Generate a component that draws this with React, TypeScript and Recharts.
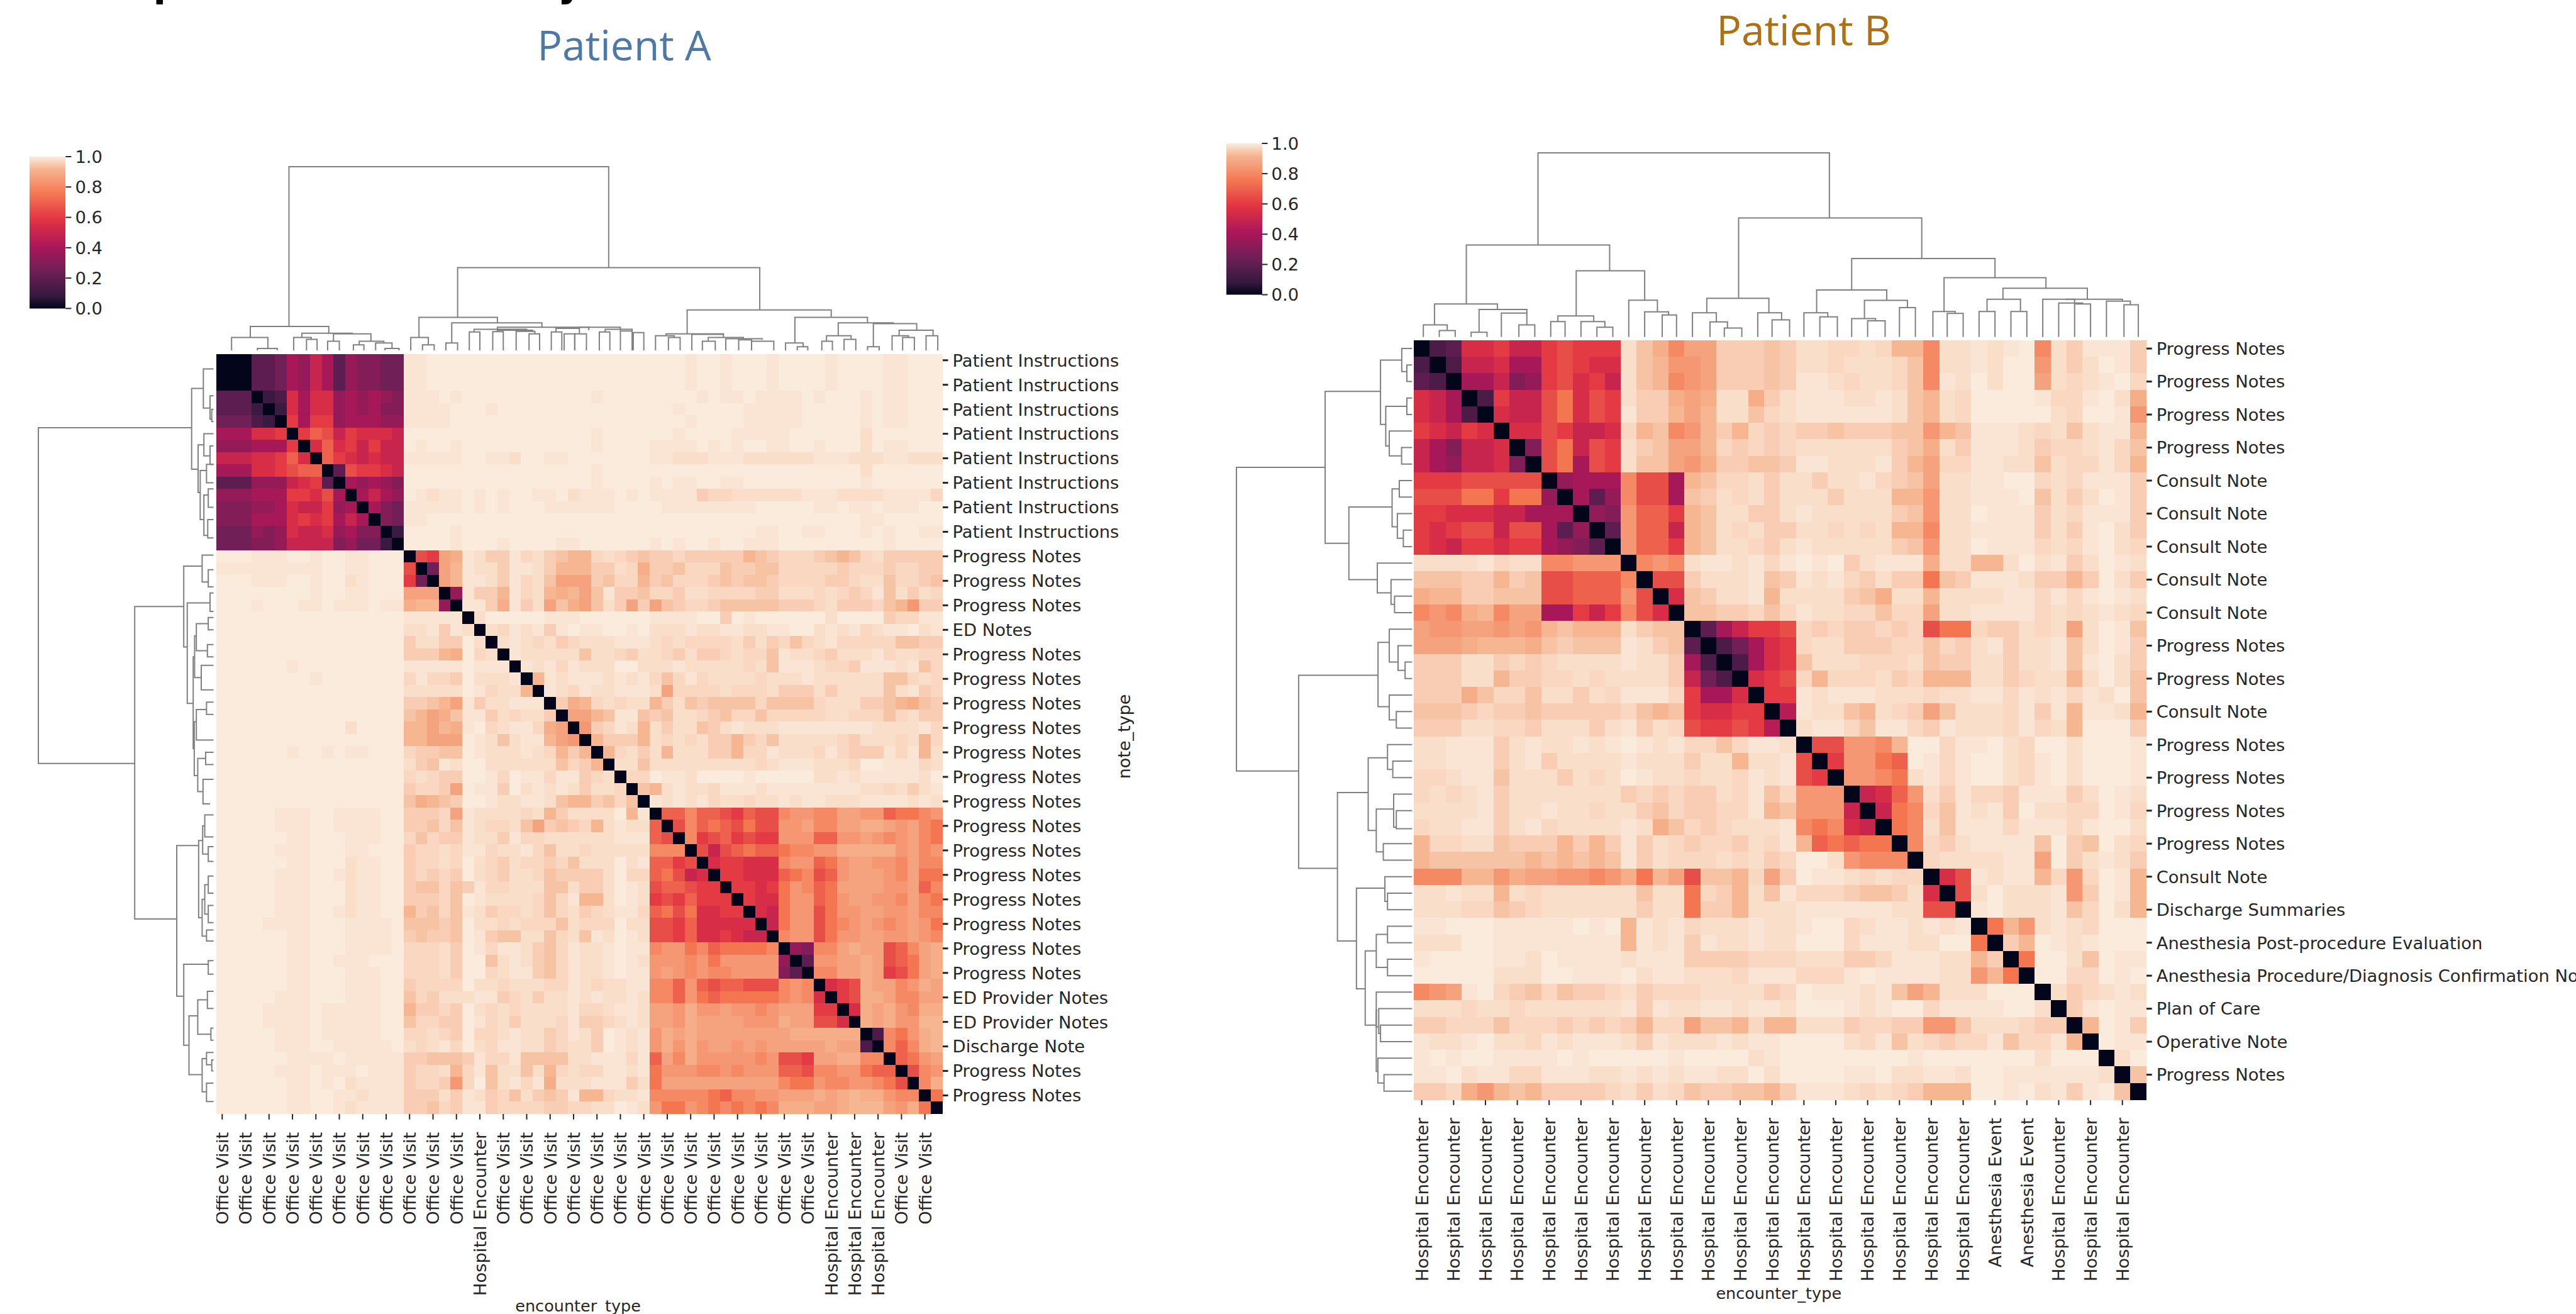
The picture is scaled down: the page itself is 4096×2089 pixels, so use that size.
import React from "react";
import { Bar, BarChart, Scatter, ScatterChart, XAxis, YAxis } from "recharts";

const S = 0.844; // reference px -> window px

// Cell values are upper triangles (the matrices are symmetric), one char per cell.
const LEVEL_KEYS = "0123456789abcdefghijklmnopq";
const LEVELS = [0, 0.05, 0.1, 0.15, 0.2, 0.25, 0.3, 0.35, 0.4, 0.45, 0.5, 0.55, 0.6, 0.65, 0.7, 0.75, 0.8, 0.84, 0.87, 0.9, 0.92, 0.94, 0.955, 0.97, 0.98, 0.99, 1];

const upperA = [
  "000445 87a8 476655 ppqqqqqqqqq qqqqqqqqqq qqqpqqpqqqp qqqqpqqqq ppqqq",
  "00445 87a8 476655 ppqqqqqqqqq qqqqqqqqqq qqqpqqpqqqp qqqqpqqqq ppqqq",
  "0445 87a8 476655 ppqqqqqqqqq qqqqqqqqqq qqqpqqpqqqp qqqqpqqqq ppqqq",
  "023 b8bb 787876 pppqpqqqqqq qqqqqpqqqq qqqqpqppqpp ppqpqqqpq ppqqq",
  "02 b8bb 787866 ppppqqqpqqq qqqqqqqqqq qqpqqqqqppp ppqqqqqpq ppqqq",
  "0 c8cc 788877 ppppqqqqqqq qqqqqqqqqq qqqpqqqqppp ppqqqqqpq ppqqq",
  "0 cedacbbba qqqqqqqqqqq qqqqqpqqqq qqpqqqqpppp pqqqqqqoq qqqqq",
  "0 bebcacaa qpqqpqqqqqq qqqqqpqqqq ppppqpqpqqp pqqpqqqoq ppqqq",
  "0 ecbabaa pppppqqppoq qppqqqqqqq ppooopppooo ooopppooo ppooo",
  "0 4dccba qqqqqqqqqqq qqqqqpqqqq qqqqqqqqqqq qqqqqqqoq qqqqq",
  "0 87876 qqqqqqqqqqq qqqqqpqqqq pqppqqppqqq qqqqqqqpq qqqqq",
  "0 8a87 qpoppqpqpqq ppqopppqpq ppppm nnoooo oopppoooo ppppn",
  "0 865 pppppqpqpqq qppppppqqq qppppppppqq qqqppqppq pppqq",
  "0 65 ppqqqqqqqqq qqqqqqqqqq qqqqqqqqqqq qqqqqqqpp qqqqq",
  "0 2 qqqqpqqqqqq qqqqqqqqqq qqqqqqqqqpp qqppqqqpq pqqpp",
  "0 qqqqpqqqpqq qqppqqqqqq pqpqqpqqppp qqqqqqqqq pqqqq",
  "0dcijpommpn omlkk nonml mmnmm mmmkl mnnnm lklno mmmmm",
  "05ikpoompp omkkk mmonj mmlnn nlmml lnnnn nmnnn mnnmm",
  "0ikppompn oliii mlnnk mlnnn mlmll mnnnn mmnoo lnnml",
  "07pmmkpn okjki lpmml nnmoo nnnnm mooon onmnp lomon",
  "0ppmjpm oilji lomim ilmnn mllll lmmmn ommmn lkhmm",
  "0oqqqq qpppq qqqqq ppppq qmqpq qqqqq oqqqq mnnpp",
  "0onpo pmpqp pqqpq ooopo oppoo ppqqo popno ppqop",
  "0opo nomno ooppp ononn nnomo mnlno pnnnn nllmm",
  "0po ooool oonmo onmom mnonn lpoon mooop noonn",
  "0p opnpo ooqqo oopoo ooono lpppo nnmpp popln",
  "0 kpopp popop nlnpn oooon ooopo ooooo llnon",
  "0 ponp ooppp oinnn nonnn ommmo moooo lopmn",
  "0 mjk nonoo kmolm lllln lllln ooomm lkjlm",
  "0 ii klppl mloon mlnnl nnnnn oonnn lnomm",
  "0h mnpok omool mopoo opppp ppppo ooopn",
  "0 kmmmk onono mmkmn loooo onmoo onokn",
  "0 knom okooo mmknn pooon pnmmm pnpko",
  "0 ool ooooo oooon opppo oonqq pppno",
  "0 nn qppoq qqqpq qqqqo opopp pppoq",
  "0 l kopoo npppo ppppp pppoo nomop",
  "0 popop noono opopp ooopp ppopo",
  "0 eege edced dghhg giihh effgh",
  "0 dge fedfd dhhig giijj ihigf",
  "0 gc decdc chhhe ehhih ghigf",
  "0 d adefe efggh hjjjj jhigh",
  "0 bccbb bghhe fhiih hgigg",
  "0 ccbb befgd ehiii hgiff",
  "0 ccb cfhge fiiii hhieg",
  "0 cb bfhhe fhiih hgigf",
  "0 b afhhd fhhii hhigg",
  "0 afhhd fghih ghihf",
  "0 ghhd fhhii hhihg",
  "0 76 g gijii degij",
  "0 4 h hiiji defij",
  "0 g giiji cdfij",
  "0 bcdji ighji",
  "0 cdjj iggii",
  "0 bji jhgjj",
  "0 ji jhhkk",
  "0 3 gfhjk",
  "0gegjk",
  "0efhi",
  "0dgh",
  "0gj",
  "0f",
  "0",
];

// Rows 16-61, columns 0-15 of A: this corner is not quite the mirror of the upper one.
const lowerLeftA = [
  "qqqpppqqpqqppqqq",
  "pppppppppqqppqqq",
  "qqqpppqqpqqopqqq",
  "qqqqqqqqpqqppqqq",
  "qqqpqqqppqpppqpp",
  "qqqqqqqqqqqqqqqq",
  "qqqqqqqqqqqqqqqq",
  "qqqqqqqqqqqqqqqq",
  "qqqqqqqqqqqqqqqq",
  "qqqqqqpqqqqqqqqq",
  "qqqqqqqqpqqqqqqq",
  "qqqqqqqqqqqqqqqq",
  "qqqqqqqqqqqqqqqq",
  "qqqqqqqqqqqqqqqq",
  "qqqqqqqqqqqoqqqq",
  "qqqqqqqqqqqqqqqq",
  "qqqqqqpqqpqppqqq",
  "qqqqqqqqqqqqqqqq",
  "qqqqqqqqqqqqqqqq",
  "qqqqqqqqqqqqqqqq",
  "qqqqqqqqqqqqqqqq",
  "qqqqqpppqqppppqq",
  "qqqqqpppqqppppqq",
  "qqqqqqppqqqpppqq",
  "qqqqqpppqqqppqqq",
  "qqqqqqppqqqoppqq",
  "qqqqqpppqqpoppqq",
  "qqqqqpppqqqoppqq",
  "qqqqqpppqqqoppqq",
  "qqqqqpppqqpoppqq",
  "qqqqppppqqqppppq",
  "qqqqqqppqqqppppq",
  "qqqqqqppqqqppppq",
  "qqqqqqppqqpppqqq",
  "qqqqqqppqqqpppqq",
  "qqqqqqppqqqpppqq",
  "qqqqqpppqqqpppqq",
  "qqqqppppqpppppqq",
  "qqqqppppqpppppqq",
  "qqqqqpppqpppppqq",
  "qqqqqpppqqpppppq",
  "qqqqqqppppqppppp",
  "qqqqqpppqpppqppp",
  "qqqqqqppqpqopppp",
  "qqqqqqppqqppoppp",
  "qqqqqqppqqpopppp",
];

const upperB = [
  "0 34bbcaacdccc oljgiimmmlmoo nnonk kgoop opqgo mpppm",
  "0 3aab88cdcbb olkhhimmmlmoo nooon lgoop oqqho moqpm",
  "0 88a67cdbca olkghimmmlmpp onoon lgpoq oqqio nopqn",
  "0 3caadfbdc ommjijoojmopp poopo lkonq qqqpn npqoj",
  "0 baadfbdc pmmkikoolnopp ppppo lkonq qqqqo nqqph",
  "0 bbdcaab nklghkmknmnmm lmmml lhklp ppono loppk",
  "0 6dfadc omliiknmnmnoo oooom ljomp ppomn nopnl",
  "0 df8dc ollihjmmllmpp ooopm kinnp poolo nnpnk",
  "0 7888 gdd8klnnomoom oopnm lioop pqqno npppm",
  "0 847 gdd8lmonomooo moook khoop ppqlo moqpm",
  "0 76 heeckloommopo oooom lhooq pppmo npppm",
  "0 4 heeaklonommoo nonok kgoop pppmo mpqom",
  "0 heeckloonmopo oooom lhooq pppno npqon",
  "0 ghgoppopnpqp qmopp pjook koqop moqpo",
  "0 ddmoooplmpo pnmom mflmp ppomm kmqom",
  "0 blmoopkooo omljo okooo oppnp npqpo",
  "0 llmmnlnpo onnln nioop pppno nopon",
  "0 48accd nmnmm nmndf fnmmo noioq pl",
  "0 358bc noomm mnnln mopmo oploq pm",
  "0 38bc looon nnolm moomo oplpq om",
  "0 bcd nknnn omnkk koomn ookoq ol",
  "0 cc poppp ooono oppnp opnpo ql",
  "0 9 poolk onmil ooonp mpkpp ok",
  "0 oppnl ppnmp ooonp nokqq qm",
  "0 ddhhg kqqnp pqonq qoqqq p",
  "0 chhfe qpnpq qonpq oqqqp",
  "0 hhgf opnpq qonpq oqqqp",
  "0 abeh ompnn mpppm oqpo",
  "0 afg nlpop mqoon nqpn",
  "0 fg olppp npppn pqqo",
  "0 g nmopp pplqm lqon",
  "0 noooo ppiqm opom",
  "0 bdpop pknhn qpk",
  "0 doqoo ophmq pk",
  "0 pqooo plnqo k",
  "0 fkhop onqqq",
  "0 mkqpo pqqq",
  "0 fqqolqpp",
  "0 qqnnqpq",
  "0 omnopo",
  "0 mpqpp",
  "0 kqpm",
  "0 qpp",
  "0 oq",
  "0 l",
  "0",
];

const rep = (label: string, n: number) => Array<string>(n).fill(label);

const xLabelsA = [...rep("Office Visit", 11), "Hospital Encounter", ...rep("Office Visit", 14), ...rep("Hospital Encounter", 3), ...rep("Office Visit", 2)];
const yLabelsA = [
  ...rep("Patient Instructions", 8),
  ...rep("Progress Notes", 3),
  "ED Notes",
  ...rep("Progress Notes", 14),
  ...rep("ED Provider Notes", 2),
  "Discharge Note",
  ...rep("Progress Notes", 2),
];
const xLabelsB = [...rep("Hospital Encounter", 18), ...rep("Anesthesia Event", 2), ...rep("Hospital Encounter", 3)];
const yLabelsB = [
  ...rep("Progress Notes", 4),
  ...rep("Consult Note", 5),
  ...rep("Progress Notes", 2),
  "Consult Note",
  ...rep("Progress Notes", 4),
  "Consult Note",
  "Discharge Summaries",
  "Anesthesia Post-procedure Evaluation",
  "Anesthesia Procedure/Diagnosis Confirmation Note",
  "Plan of Care",
  "Operative Note",
  "Progress Notes",
];

// Dendrogram links: [leaf pos 1, height 1, leaf pos 2, height 2, merge height]
type Link = number[];

const topLinksA: Link[] = [
  [6.2, 13, 33.5, 45, 100], [2.9, 7, 9.6, 9, 13], [1.3, 0, 4.4, 1, 7], [3.5, 0, 5.2, 0, 1],
  [7.3, 7, 11.6, 9, 9.3], [6.6, 0, 8.1, 6, 7], [7.7, 0, 8.6, 0, 6], [10, 5, 13.2, 5, 9],
  [9.5, 0, 10.5, 0, 5], [12.2, 3, 14.3, 4, 5], [11.7, 0, 12.6, 0, 3], [13.6, 0, 15, 1, 4], [14.4, 0, 15.6, 0, 1],
  [20.6, 18, 46.4, 22, 45], [17.3, 7, 24, 15, 18], [16.6, 0, 18.1, 3, 7], [17.6, 0, 18.6, 0, 3],
  [20.1, 4, 27.8, 12.5, 15], [19.6, 0, 20.6, 0, 4], [24, 11, 31.8, 11, 12.6], [22, 10, 26.5, 11, 11.5],
  [21.6, 0, 22.5, 0, 10], [24, 10, 27, 10, 11], [23.6, 0, 24.5, 0, 10.2], [25.6, 0, 27.2, 9, 10.4], [26.7, 0, 27.6, 0, 9],
  [29, 10, 31, 9.3, 12], [28.6, 0, 29.5, 0, 10], [29.7, 0, 30.6, 0, 9], [30.6, 0, 31.6, 0, 9],
  [31, 12, 34.5, 11, 12.6], [33.2, 10, 35.5, 10.5, 11.5], [32.7, 0, 33.6, 0, 10], [34.5, 0, 35.5, 0, 10.5], [35.6, 0, 36.5, 0, 9.7],
  [40.2, 9, 52.5, 18, 22], [38.4, 8, 43.3, 8.7, 9], [37.5, 0, 39.1, 7, 8], [38.6, 0, 39.6, 0, 7], [40.6, 0, 43.3, 7, 8.7],
  [42, 5, 45, 6.3, 7], [41.5, 0, 42.6, 0, 5], [43.5, 0, 46.6, 5.7, 6.3], [44.6, 0, 45.7, 0, 5.7], [45.7, 0, 47.6, 0, 5],
  [49.4, 4, 55.6, 15, 18], [48.6, 0, 50.1, 2, 4], [49.6, 0, 50.5, 0, 2], [53.1, 8, 57.8, 14.6, 15], [52.1, 5, 54.2, 6, 8],
  [51.7, 0, 52.6, 0, 5], [53.6, 0, 54.6, 0, 6], [56.1, 2, 59.8, 11, 14.6], [55.6, 0, 56.6, 0, 2], [58.3, 8, 61.2, 8, 11],
  [57.7, 0, 59.1, 7, 8], [58.6, 0, 59.6, 0, 7], [60.6, 0, 61.6, 0, 8],
];

const leftLinksA: Link[] = [
  [6, 12.5, 33.4, 45, 100], [2.8, 5.8, 9.4, 8.8, 12.5], [1.2, 0, 4.4, 2, 5.8], [3.4, 0, 5.3, 1, 2], [4.5, 0, 5.5, 0, 1],
  [7.4, 5.5, 11.3, 7.6, 8.8], [6.5, 0, 8.3, 2, 5.5], [7.5, 0, 9, 0, 2], [9.5, 4, 13.5, 5.5, 7.6], [9, 0, 10.5, 0, 4],
  [11.5, 3, 14.8, 3.3, 5.5], [11, 0, 12.5, 0, 3], [13.5, 0, 15, 0, 3.3],
  [20.6, 17, 46.1, 21, 45], [17.3, 6.5, 23.9, 15, 17], [16.4, 0, 18.6, 3, 6.5], [17.6, 0, 19, 0, 3],
  [20.3, 2, 28.5, 11.6, 15], [19.5, 0, 21, 0, 2], [22, 3, 24.2, 3.5, 9.8], [21.5, 0, 22.5, 0, 3], [23.7, 0, 24.7, 0, 3.5],
  [25.4, 0, 27.4, 0, 7], [23, 9.8, 26.4, 7, 10.8], [28.4, 0, 29.4, 0, 4], [29, 4, 31.5, 0, 9.8], [32.5, 0, 33.5, 0, 4.5],
  [34.7, 0, 36.7, 2, 6], [33, 4.5, 35.7, 6, 9], [30, 9.8, 34.4, 9, 11], [24.7, 10.8, 32.2, 11, 11.6],
  [40.1, 8.5, 52.4, 17, 21], [38.5, 5, 40.8, 3, 6.2], [37.6, 0, 39.4, 0, 5], [40.2, 0, 41.4, 0, 3], [42.6, 0, 44, 0, 3],
  [45, 0, 46.4, 0, 3], [47, 0, 47.9, 0, 4], [43.3, 3, 45.7, 3, 5], [44.5, 5, 47.5, 4, 6.5], [39.7, 6.2, 46, 6.5, 8.5],
  [49.8, 3, 56.4, 14, 17], [49.5, 0, 50.6, 0, 3], [52, 0, 53.4, 0, 3.5], [55, 0, 56, 0, 1.5], [52.7, 3.5, 55.5, 1.5, 9],
  [57, 0, 58, 1, 4], [57.6, 0, 58.5, 0, 1], [59.5, 0, 61, 0, 4], [57.5, 4, 60.2, 4, 6.5], [54, 9, 58.8, 6.5, 14],
];

const topLinksB: Link[] = [
  [7.8, 50, 26.1, 64.7, 100], [3.3, 18, 12.3, 36, 50], [1.3, 6.6, 5.25, 15, 18], [0.6, 0, 2.1, 3.5, 6.6], [1.6, 0, 2.6, 0, 3.5],
  [4.1, 2.6, 7.1, 13, 15], [3.6, 0, 4.6, 0, 2.6], [5.5, 0, 7.1, 6.6, 13], [6.6, 0, 7.6, 0, 6.6],
  [10.2, 11.5, 14.5, 20, 36], [9.05, 8.4, 11.3, 8.4, 11.5], [8.6, 0, 9.5, 0, 8.4], [10.5, 0, 12, 5.3, 8.4], [11.5, 0, 12.5, 0, 5.3],
  [13.5, 0, 15.3, 13.7, 20], [14.5, 0, 16, 12, 13.7], [15.6, 0, 16.5, 0, 12],
  [20.4, 21, 31.9, 42.6, 64.7], [18.4, 13.2, 22.3, 13.2, 21], [17.5, 0, 19, 8.2, 13.2], [18.6, 0, 19.7, 4.9, 8.2], [19.5, 0, 20.6, 0, 4.9],
  [21.6, 0, 23.1, 9.3, 13.2], [22.5, 0, 23.6, 0, 9.3], [27.5, 25.6, 36.5, 32.2, 42.6], [25.3, 13.2, 29.7, 19.9, 25.6],
  [24.5, 0, 26, 11, 13.2], [25.5, 0, 26.6, 0, 11], [28.3, 10, 31, 16, 19.9], [27.5, 0, 29, 8.8, 10], [28.5, 0, 29.6, 0, 8.8], [30.5, 0, 31.5, 0, 16],
  [33.3, 13.9, 39.7, 26.5, 32.2], [32.6, 0, 34, 12.8, 13.9], [33.5, 0, 34.5, 0, 12.8], [37, 20.5, 42.3, 20.5, 26.5], [36, 13.9, 38.1, 13.9, 20.5],
  [35.5, 0, 36.5, 0, 13.9], [37.5, 0, 38.5, 0, 13.9], [39.5, 0, 41.5, 18.5, 20.5], [40.5, 0, 42, 18, 18.5], [41.5, 0, 42.5, 0, 18],
  [41, 20, 44.5, 19.5, 20.5], [43.5, 0, 45, 17.5, 19.5], [44.6, 0, 45.5, 0, 17.5],
];

const leftLinksB: Link[] = [
  [7.7, 49.5, 26.1, 64.6, 100], [3.1, 18, 12.3, 36, 49.5], [1.2, 5.9, 5.1, 15, 18], [0.5, 0, 1.9, 3, 5.9], [1.5, 0, 2.5, 0, 3],
  [4, 3, 6.4, 13, 15], [3.5, 0, 4.5, 0, 3], [5.5, 0, 7, 6, 13], [6.5, 0, 7.5, 0, 6],
  [10.1, 11.4, 14.5, 19.8, 36], [9, 7.3, 11.3, 8.4, 11.4], [8.5, 0, 9.5, 0, 7.3], [10.5, 0, 12, 5, 8.4], [11.5, 0, 12.5, 0, 5],
  [13.5, 0, 15.3, 12, 19.8], [14.5, 0, 16, 10, 12], [15.5, 0, 16.5, 0, 10],
  [20.3, 19.4, 32, 42.5, 64.6], [18.3, 13, 22.2, 13, 19.4], [17.5, 0, 19.5, 8, 13], [18.5, 0, 20, 4, 8], [19.5, 0, 20.5, 0, 4],
  [21.5, 0, 23, 9, 13], [22.5, 0, 23.5, 0, 9], [27.4, 25, 36.4, 31.7, 42.5], [25.3, 14, 29.7, 20.4, 25], [24.5, 0, 26, 11, 14], [25.5, 0, 26.5, 0, 11],
  [28.4, 10.5, 31, 16.4, 20.4], [27.5, 0, 29.5, 9, 10.5], [28.5, 0, 29.6, 0, 9], [30.5, 0, 31.5, 0, 16.4],
  [33.2, 15.5, 39.3, 26.7, 31.7], [32.5, 0, 34, 14, 15.5], [33.5, 0, 34.5, 0, 14], [37, 20.4, 41.5, 20.4, 26.7], [36, 14, 38, 14, 20.4],
  [35.5, 0, 36.5, 0, 14], [37.5, 0, 38.5, 0, 14], [39.5, 0, 41.6, 19, 20.4], [40.5, 0, 42, 18, 19], [41.5, 0, 42.5, 0, 18],
  [40.6, 19.8, 44.3, 19.5, 20.4], [43.5, 0, 45, 16, 19.5], [44.5, 0, 45.5, 0, 16],
];

const barTicks = [0, 0.2, 0.4, 0.6, 0.8, 1];

// rocket colormap stops
const ROCKET: [number, string][] = [
  [0, "#03051a"],
  [1 / 12, "#35193e"],
  [3 / 12, "#701f57"],
  [5 / 12, "#ad1759"],
  [7 / 12, "#e13342"],
  [9 / 12, "#f37651"],
  [11 / 12, "#f6b48f"],
  [1, "#faebdd"],
];

function rocket(v: number) {
  let i = 0;
  while (i < ROCKET.length - 2 && v > ROCKET[i + 1][0]) i++;
  const [p0, c0] = ROCKET[i];
  const [p1, c1] = ROCKET[i + 1];
  const t = (v - p0) / (p1 - p0);
  const ch = (c: string, k: number) => parseInt(c.slice(1 + k * 2, 3 + k * 2), 16);
  const mix = [0, 1, 2].map((k) => Math.round(ch(c0, k) + (ch(c1, k) - ch(c0, k)) * t));
  return `rgb(${mix[0]},${mix[1]},${mix[2]})`;
}

function buildCells(upper: string[], lowerLeft?: string[]) {
  const n = upper.length;
  const cells: { x: number; y: number; value: number }[] = [];
  const level = (c: string) => LEVELS[LEVEL_KEYS.indexOf(c)];
  upper.forEach((raw, r) => {
    const row = raw.replace(/\s/g, "").padEnd(n - r, "q");
    for (let k = 0; k < n - r; k++) {
      const value = level(row[k]);
      cells.push({ x: r + k + 0.5, y: r + 0.5, value });
      if (k > 0) {
        const y = r + k;
        const corner = lowerLeft && r < 16 && y >= 16 ? lowerLeft[y - 16][r] : null;
        cells.push({ x: r + 0.5, y: y + 0.5, value: corner ? level(corner) : value });
      }
    }
  });
  return cells;
}

const FONT = "'DejaVu Sans', sans-serif";
const LABEL_SIZE = 27.4;
const TICK_COLOR = "#262626";

function Heatmap({ upper, lowerLeft, xLabels, yLabels, left, top, width, height }: any) {
  const n = upper.length;
  const w = width * S;
  const h = height * S;
  const cw = w / n;
  const ch = h / n;
  const ticks = xLabels.map((_: string, i: number) => i * 2 + 0.5);
  const axisBottom = 340;
  const axisRight = 900;

  const cellShape = (p: any) => (
    <rect
      x={p.cx - cw / 2}
      y={p.cy - ch / 2}
      width={cw + 0.6}
      height={ch + 0.6}
      fill={rocket(p.payload.value)}
      shapeRendering="crispEdges"
    />
  );

  const xTick = ({ x, y, payload }: any) => (
    <text
      x={x}
      y={y}
      dy="0.36em"
      textAnchor="end"
      transform={`rotate(-90 ${x} ${y})`}
      fontFamily={FONT}
      fontSize={LABEL_SIZE}
      fill="#262626"
    >
      {xLabels[(payload.value - 0.5) / 2]}
    </text>
  );
  const yTick = ({ x, y, payload }: any) => (
    <text x={x} y={y} dy="0.36em" textAnchor="start" fontFamily={FONT} fontSize={LABEL_SIZE} fill="#262626">
      {yLabels[(payload.value - 0.5) / 2]}
    </text>
  );

  return (
    <div style={{ position: "absolute", left: left * S, top: top * S }}>
      <ScatterChart width={w + axisRight} height={h + axisBottom} margin={{ top: 0, right: 0, bottom: 0, left: 0 }}>
        <XAxis
          type="number"
          dataKey="x"
          domain={[0, n]}
          ticks={ticks}
          interval={0}
          height={axisBottom}
          axisLine={false}
          tickLine={{ stroke: TICK_COLOR, strokeWidth: 2 }}
          tickSize={9}
          tickMargin={20}
          tick={xTick}
        />
        <YAxis
          type="number"
          dataKey="y"
          orientation="right"
          reversed
          domain={[0, n]}
          ticks={ticks}
          interval={0}
          width={axisRight}
          axisLine={false}
          tickLine={{ stroke: TICK_COLOR, strokeWidth: 3 }}
          tickSize={9}
          tickMargin={7}
          tick={yTick}
        />
        <Scatter data={buildCells(upper, lowerLeft)} shape={cellShape} isAnimationActive={false} />
      </ScatterChart>
    </div>
  );
}

const NoMark = () => <g />;

function Dendrogram({ links, side, n, left, top, width, height }: any) {
  const isTop = side === "top";
  const pad = 3;
  return (
    <div style={{ position: "absolute", left: left * S - pad, top: top * S - pad }}>
      <ScatterChart
        width={width * S + pad * 2}
        height={height * S + pad * 2}
        margin={{ top: pad, right: pad, bottom: pad, left: pad }}
      >
        <XAxis type="number" dataKey="x" hide domain={isTop ? [0, n] : [0, 100]} reversed={!isTop} />
        <YAxis type="number" dataKey="y" hide domain={isTop ? [0, 100] : [0, n]} reversed={!isTop} />
        {links.map((l: Link, i: number) => {
          const [a, ha, b, hb, m] = l;
          const pts = isTop
            ? [{ x: a, y: ha }, { x: a, y: m }, { x: b, y: m }, { x: b, y: hb }]
            : [{ x: ha, y: a }, { x: m, y: a }, { x: m, y: b }, { x: hb, y: b }];
          return (
            <Scatter
              key={i}
              data={pts}
              line={{ stroke: "#808080", strokeWidth: 2 }}
              shape={NoMark}
              isAnimationActive={false}
            />
          );
        })}
      </ScatterChart>
    </div>
  );
}

function ColorBar({ id, left, top, width, height }: any) {
  const w = width * S;
  const h = height * S;
  const pad = 20;
  const axisW = 80;
  return (
    <div style={{ position: "absolute", left: left * S, top: top * S - pad }}>
      <BarChart
        width={w + axisW}
        height={h + pad * 2}
        data={[{ name: "scale", value: 1 }]}
        margin={{ top: pad, right: 0, bottom: pad, left: 0 }}
        barCategoryGap={0}
      >
        <defs>
          <linearGradient id={id} x1="0" y1="1" x2="0" y2="0">
            {ROCKET.map(([p, c]) => (
              <stop key={p} offset={p} stopColor={c} />
            ))}
          </linearGradient>
        </defs>
        <XAxis dataKey="name" hide />
        <YAxis
          orientation="right"
          type="number"
          domain={[0, 1]}
          ticks={barTicks}
          interval={0}
          width={axisW}
          axisLine={false}
          tickLine={{ stroke: TICK_COLOR, strokeWidth: 2 }}
          tickSize={9}
          tickMargin={6}
          tickFormatter={(v: number) => v.toFixed(1)}
          tick={{ fontFamily: FONT, fontSize: LABEL_SIZE, fill: "#262626" }}
        />
        <Bar dataKey="value" fill={`url(#${id})`} isAnimationActive={false} />
      </BarChart>
    </div>
  );
}

function Title({ text, color, cx, base }: any) {
  return (
    <div
      style={{
        position: "absolute",
        left: cx * S - 300,
        width: 600,
        top: base * S - 60,
        lineHeight: "60px",
        height: 60,
        textAlign: "center",
        fontFamily: "'Open Sans', sans-serif",
        fontWeight: 500,
        fontSize: 66,
        color,
      }}
    >
      {text}
    </div>
  );
}

function AxisName({ text, cx, cy, vertical }: any) {
  return (
    <div
      style={{
        position: "absolute",
        left: cx * S - 300,
        top: cy * S - 20,
        width: 600,
        height: 40,
        lineHeight: "40px",
        textAlign: "center",
        fontFamily: FONT,
        fontSize: vertical ? 27 : 25.5,
        color: "#262626",
        transform: vertical ? "rotate(-90deg)" : undefined,
      }}
    >
      {text}
    </div>
  );
}

export default function App() {
  return (
    <div
      style={{
        position: "absolute",
        left: 0,
        top: 0,
        width: 4096,
        height: 2089,
        background: "#fff",
        overflow: "hidden",
      }}
    >
      {/* descenders of a heading cut off by the top of the picture */}
      <svg width={4096} height={20} style={{ position: "absolute", left: 0, top: 0 }}>
        <text x={243.6} y={-6.5} fontFamily={FONT} fontWeight="bold" fontSize={60} fill="#000">p</text>
        <text x={887} y={-6.5} fontFamily={FONT} fontWeight="bold" fontSize={60} fill="#000">y</text>
      </svg>

      <Title text="Patient A" color="#4e79a7" cx={1176} base={118} />
      <Title text="Patient B" color="#b06f10" cx={3398} base={90} />

      <ColorBar id="rocketA" left={56} top={295} width={68} height={286} />
      <Dendrogram links={topLinksA} side="top" n={62} left={408} top={314} width={1368} height={346} />
      <Dendrogram links={leftLinksA} side="left" n={62} left={72} top={667} width={330} height={1431} />
      <Heatmap upper={upperA} lowerLeft={lowerLeftA} xLabels={xLabelsA} yLabels={yLabelsA} left={408} top={667} width={1368} height={1431} />
      <AxisName text="note_type" cx={2119} cy={1388} vertical />
      <AxisName text="encounter_type" cx={1089} cy={2460} />

      <ColorBar id="rocketB" left={2311} top={270} width={67} height={285} />
      <Dendrogram links={topLinksB} side="top" n={46} left={2664} top={288} width={1380} height={347} />
      <Dendrogram links={leftLinksB} side="left" n={46} left={2329} top={641} width={331} height={1430} />
      <Heatmap upper={upperB} xLabels={xLabelsB} yLabels={yLabelsB} left={2664} top={641} width={1380} height={1430} />
      <AxisName text="encounter_type" cx={3351} cy={2436} />
    </div>
  );
}
